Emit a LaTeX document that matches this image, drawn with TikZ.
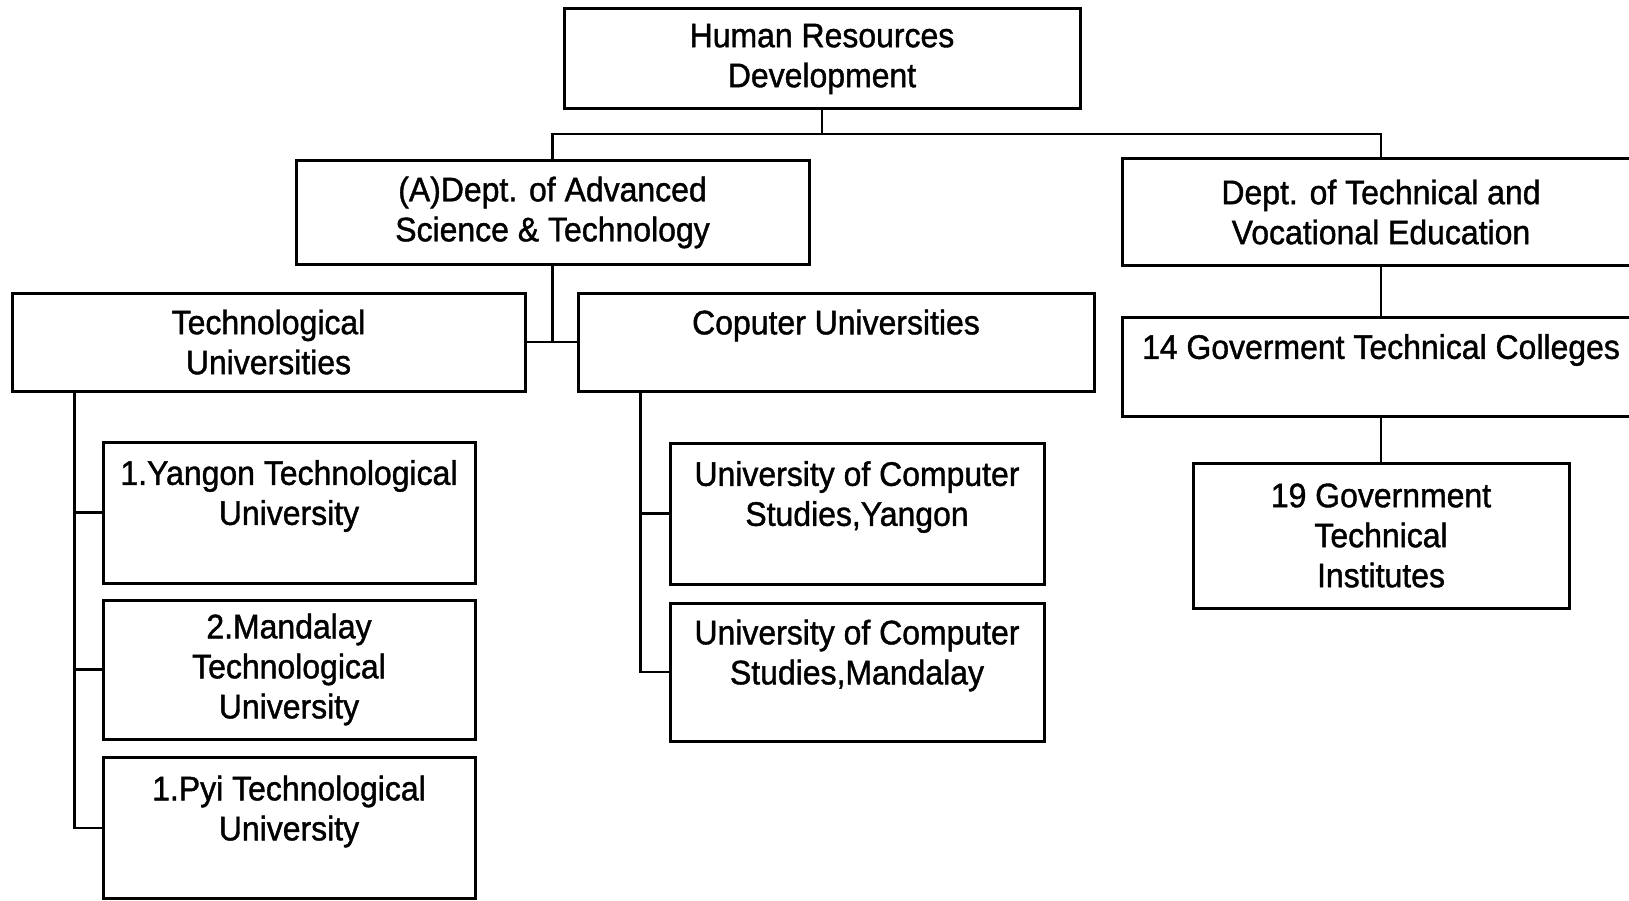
\documentclass[tikz,border=0pt]{standalone}
\usepackage{fontspec}
\setmainfont{Liberation Sans}[FakeStretch=0.94, FakeBold=1.2]
\usetikzlibrary{calc}

\begin{document}
\begin{tikzpicture}[x=1pt, y=-1pt,
  box/.style={draw, rectangle, line width=3pt, inner sep=0pt, align=center,
    font=\fontsize{34}{40}\selectfont},
  link/.style={line width=2.6pt}]
  \useasboundingbox (0,0) rectangle (1629,901);
  % top level
  \node[box, minimum width=516, minimum height=100] (hrd) at (822,59) {Human Resources\\Development};
  \node[box, minimum width=513, minimum height=103] (dast) at (552.5,212.5) {(A)Dept. of Advanced\\Science \& Technology};
  \node[box, minimum width=518, minimum height=106] (dtve) at (1381,212) {Dept. of Technical and\\Vocational Education};
  % universities
  \node[box, minimum width=513, minimum height=98] (tu) at (268.5,342) {Technological\\Universities};
  \node[box, minimum width=516, minimum height=98] (cu) at (836,342) {Coputer Universities\\~};
  \node[box, minimum width=372, minimum height=141] (ytu) at (289,512.5) {1.Yangon Technological\\University\\~};
  \node[box, minimum width=372, minimum height=139] (mtu) at (289,669.5) {2.Mandalay\\Technological\\University};
  \node[box, minimum width=372, minimum height=141] (pyi) at (289,828) {1.Pyi Technological\\University\\~};
  \node[box, minimum width=374, minimum height=141] (ucsy) at (857,513.5) {University of Computer\\Studies,Yangon\\~};
  \node[box, minimum width=374, minimum height=138] (ucsm) at (857,672) {University of Computer\\Studies,Mandalay\\~};
  % technical education
  \node[box, minimum width=518, minimum height=99] (gtc) at (1381,366.5) {14 Goverment Technical Colleges\\~};
  \node[box, minimum width=376, minimum height=145] (gti) at (1381,535.5) {19 Government\\Technical\\Institutes};

  \coordinate (bus) at (822,134);
  \coordinate (djoin) at (552.5,342);
  \coordinate (tutrunk) at ($(tu.south west)+(64,0)$);
  \coordinate (cutrunk) at ($(cu.south west)+(64,0)$);

  \draw[link] (hrd) -- (bus);
  \draw[link] (dast) |- (bus) -| (dtve);
  \draw[link] (dast) -- (djoin);
  \draw[link] (tu) -- (cu);
  \draw[link] (tutrunk) |- (ytu) (tutrunk) |- (mtu) (tutrunk) |- (pyi);
  \draw[link] (cutrunk) |- (ucsy) (cutrunk) |- (ucsm);
  \draw[link] (dtve) -- (gtc);
  \draw[link] (gtc) -- (gti);
\end{tikzpicture}
\end{document}
